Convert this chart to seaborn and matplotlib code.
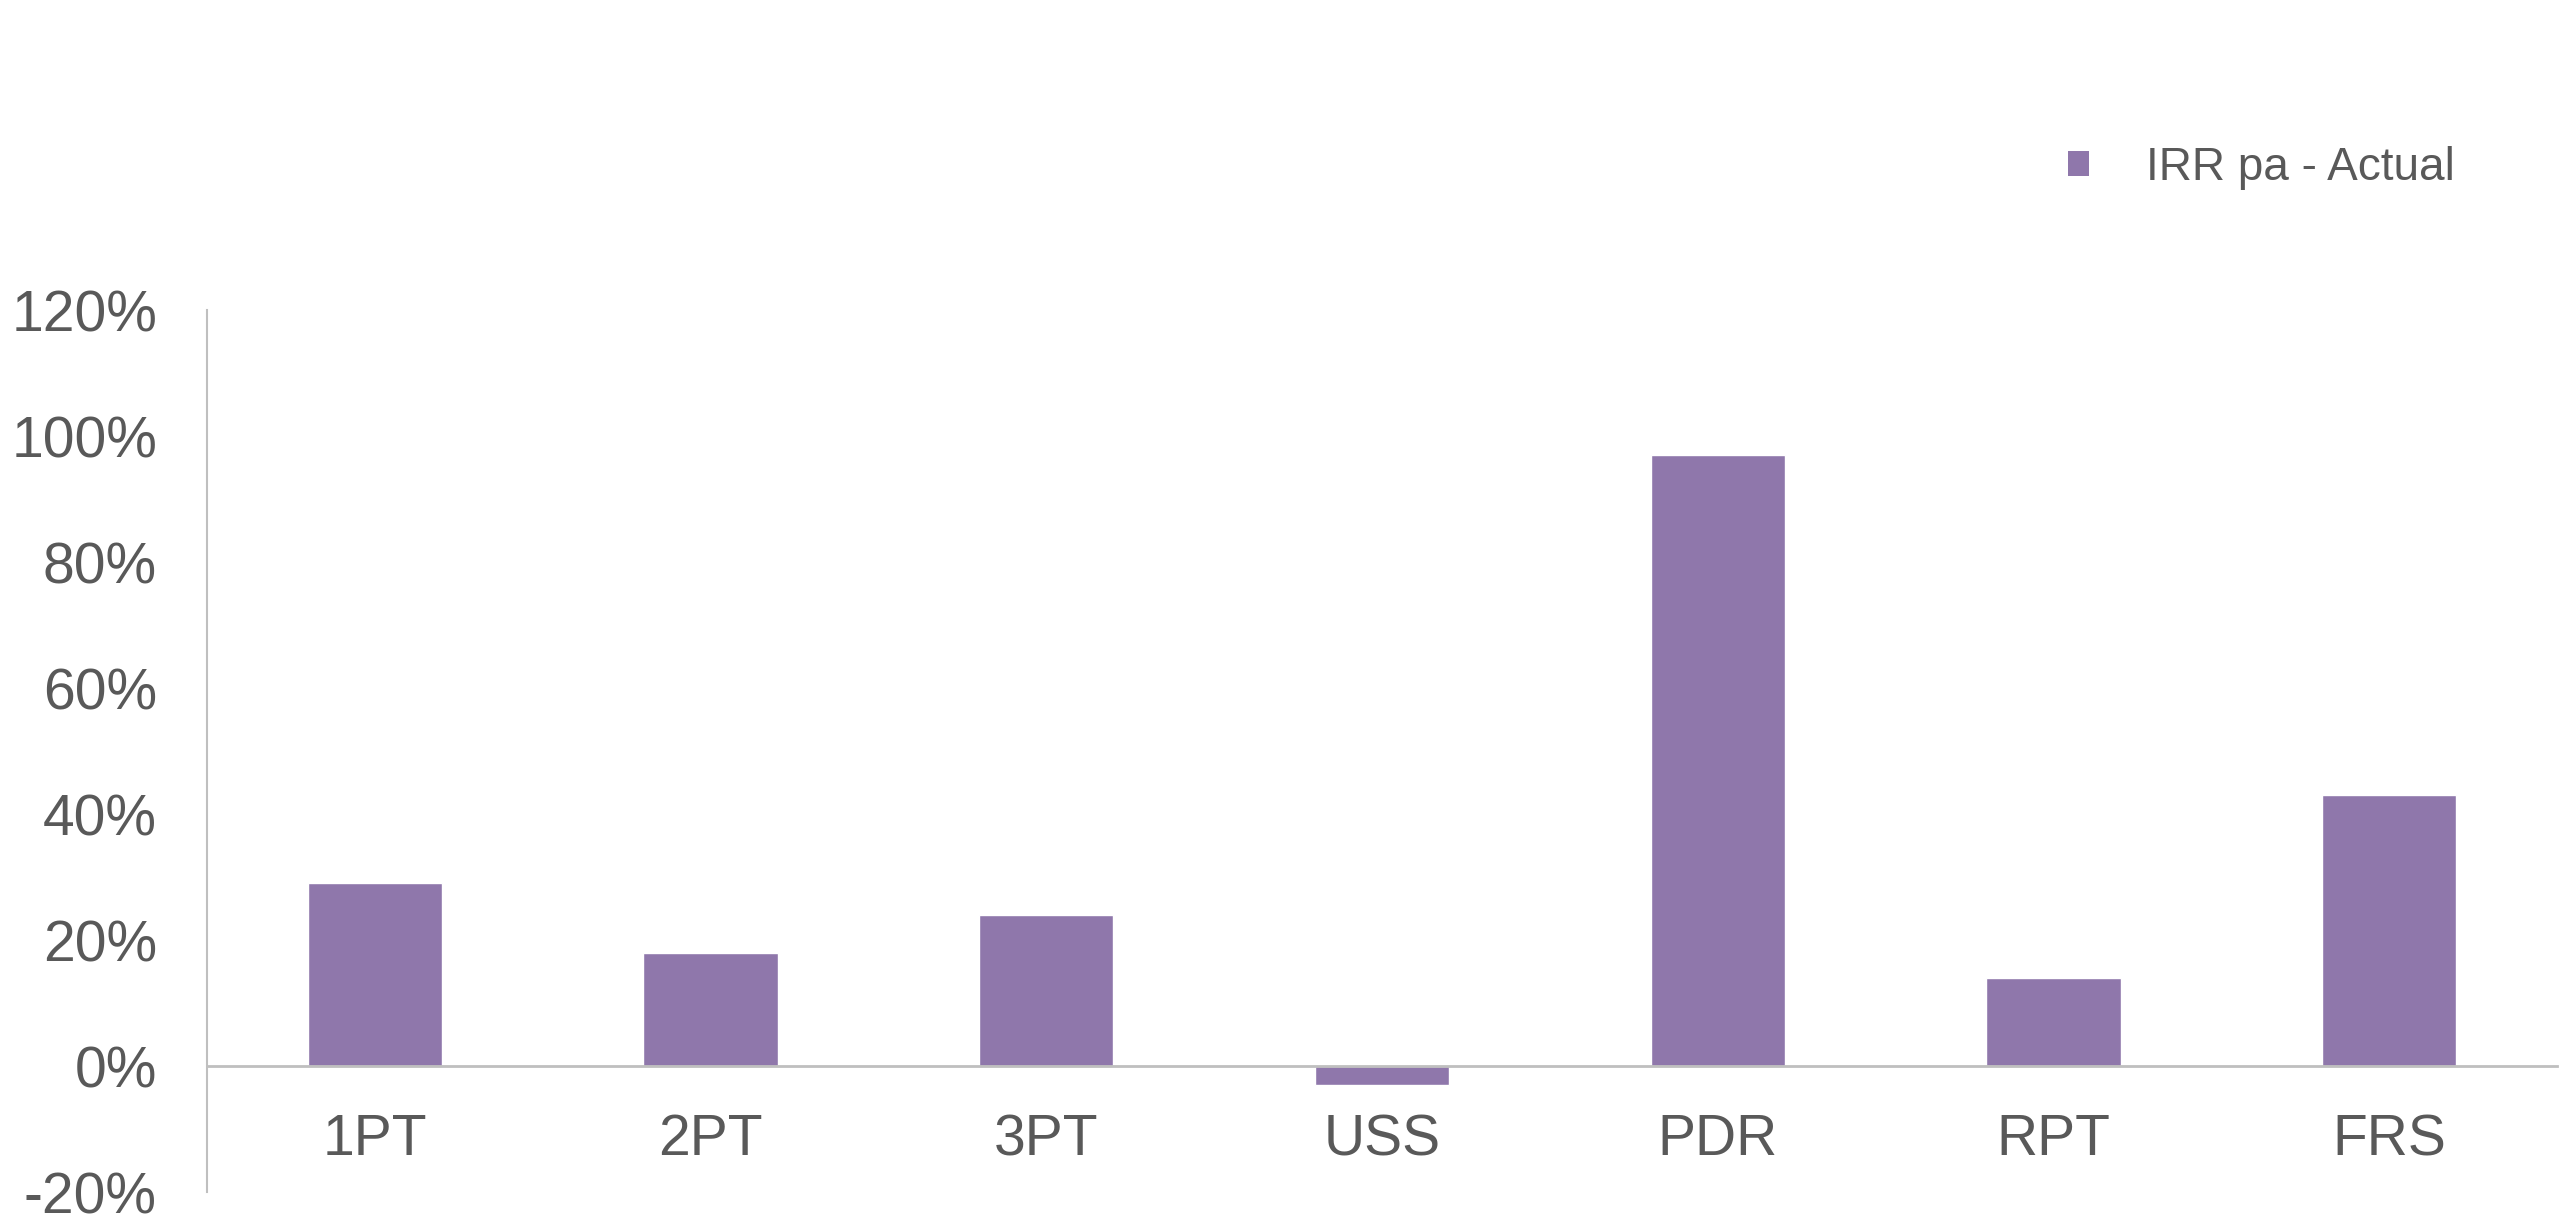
import matplotlib
matplotlib.use("Agg")
import matplotlib.pyplot as plt
import seaborn as sns
import pandas as pd
from matplotlib.patches import Patch
from matplotlib.ticker import PercentFormatter

categories = ["1PT", "2PT", "3PT", "USS", "PDR", "RPT", "FRS"]
irr_actual = [0.29, 0.18, 0.24, -0.03, 0.97, 0.14, 0.43]
series_name = "IRR pa - Actual"

bar_color = "#8F77AB"
text_color = "#595959"
axis_color = "#BFBFBF"

sns.set_style("white")
plt.rcParams["font.family"] = ["Liberation Sans", "DejaVu Sans"]
plt.rcParams["axes.unicode_minus"] = False

df = pd.DataFrame({"fund": categories, "irr": irr_actual})

fig = plt.figure(figsize=(25.6, 12.3), dpi=100)
ax = fig.add_axes([207 / 2560, 1 - 1192 / 1230, (2557 - 207) / 2560, (1192 - 310) / 1230])

sns.barplot(data=df, x="fund", y="irr", color=bar_color, saturation=1, width=0.4, ax=ax)

ax.set_xlim(-0.5, 6.5)
ax.set_ylim(-0.2, 1.2)
ax.set_yticks([-0.2, 0, 0.2, 0.4, 0.6, 0.8, 1.0, 1.2])
ax.yaxis.set_major_formatter(PercentFormatter(1.0, decimals=0))
ax.set_xlabel("")
ax.set_ylabel("")

for side in ["top", "right"]:
    ax.spines[side].set_visible(False)
ax.spines["left"].set_color(axis_color)
ax.spines["left"].set_linewidth(1.5)
ax.spines["bottom"].set_position(("data", 0))
ax.spines["bottom"].set_color(axis_color)
ax.spines["bottom"].set_linewidth(2)

ax.tick_params(axis="y", length=0, pad=36, labelsize=41, labelcolor=text_color)
ax.tick_params(axis="x", length=0, pad=34, labelsize=41, labelcolor=text_color)

handle = Patch(facecolor=bar_color, edgecolor="none", label=series_name)
fig.legend(handles=[handle], loc="center left", bbox_to_anchor=(2068 / 2560, 1 - 168 / 1230),
           frameon=False, fontsize=33, labelcolor=text_color, handlelength=0.46,
           handleheight=0.46, handletextpad=1.25, borderpad=0, borderaxespad=0)

fig.savefig("out.png", dpi=100, facecolor="white")
